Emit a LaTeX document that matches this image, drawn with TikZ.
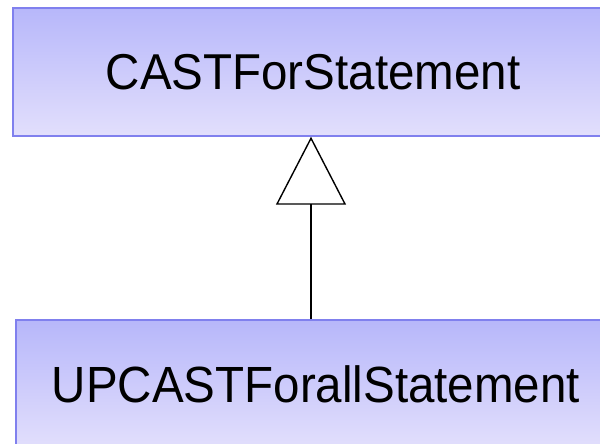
\documentclass[tikz,border=0pt]{standalone}
\usepackage{fontspec}
\setmainfont{Liberation Sans}
\usetikzlibrary{arrows.meta}
\definecolor{boxtop}{RGB}{183,183,250}
\definecolor{boxbot}{RGB}{226,223,252}
\definecolor{boxline}{RGB}{128,128,238}
\tikzset{
  classbox/.style={draw=boxline, line width=1.5pt, top color=boxtop, bottom color=boxbot,
    minimum width=600pt, minimum height=128pt, inner sep=0pt,
    font=\fontsize{48}{58}\selectfont, text=black},
  generalization/.style={line width=1.4pt, -{Triangle[open, length=68pt, width=70pt, line width=1.4pt]}}
}
\begin{document}
\begin{tikzpicture}[x=1pt,y=1pt]
\useasboundingbox (0,0) rectangle (600,444);
\clip (0,0) rectangle (600,444);
\fill[white] (0,0) rectangle (600,444);
\node[classbox] (super) at (313,372) {\scalebox{0.99}[1.05]{CASTForStatement}};
\node[classbox] (sub) at (316,60) {\scalebox{0.99}[1.06]{UPCASTForallStatement}};
\coordinate (axis) at (311,0);
\draw[generalization] (sub.north -| axis) -- (super.south -| axis);
\end{tikzpicture}
\end{document}
